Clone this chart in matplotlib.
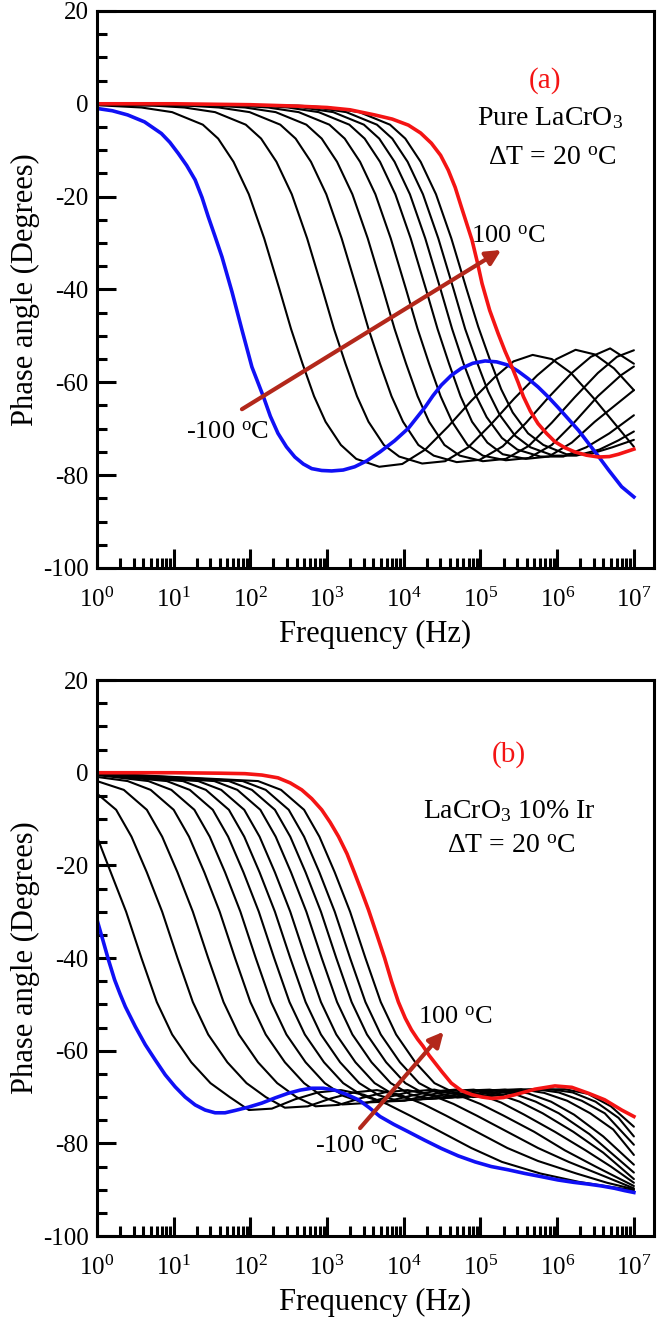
import numpy as np
import matplotlib
matplotlib.use("Agg")
import matplotlib.pyplot as plt
from matplotlib.ticker import FixedLocator, MultipleLocator, FuncFormatter, NullFormatter

plt.rcParams['font.family'] = ['Liberation Serif', 'DejaVu Serif']
plt.rcParams['mathtext.fontset'] = 'custom'
plt.rcParams['mathtext.rm'] = 'Liberation Serif'
plt.rcParams['mathtext.it'] = 'Liberation Serif:italic'
plt.rcParams['mathtext.bf'] = 'Liberation Serif:bold'
plt.rcParams['axes.unicode_minus'] = False

# ---------------- Panel (a): Pure LaCrO3 (log10 frequency, phase in degrees) ----------------
a_m100_logf = [0, 0.2, 0.4, 0.62, 0.84, 0.95, 1.06, 1.17, 1.28, 1.37, 1.45, 1.54, 1.63, 1.76, 1.89, 2.02,
               2.17, 2.26, 2.36, 2.47, 2.58, 2.69, 2.80, 2.93, 3.06, 3.21, 3.36, 3.52, 3.69, 3.88, 4.06,
               4.17, 4.28, 4.38, 4.49, 4.62, 4.75, 4.9, 5.06, 5.21, 5.36, 5.49, 5.62, 5.75, 5.88, 6.01,
               6.14, 6.28, 6.41, 6.54, 6.67, 6.84, 7.0]
a_m100_phase = [-1.0, -1.5, -2.4, -3.9, -6.4, -8.3, -10.7, -13.3, -16.4, -20.2, -24.3, -28.6, -33.0, -40.5,
                -48.7, -56.7, -63.1, -67.3, -71.0, -73.9, -76.1, -77.6, -78.6, -79.0, -79.1, -78.9, -78.2,
                -76.9, -75.0, -72.6, -69.9, -67.6, -65.3, -62.9, -60.6, -58.5, -57.0, -55.9, -55.4, -55.6,
                -56.3, -57.6, -59.2, -61.0, -63.1, -65.4, -67.8, -70.4, -73.2, -76.0, -78.9, -82.5, -84.7]

a_m80_logf = [0, 0.58, 0.98, 1.38, 1.58, 1.78, 1.98, 2.18, 2.38, 2.53, 2.68, 2.83, 2.98, 3.18, 3.38, 3.68,
              3.98, 4.28, 4.58, 4.88, 5.18, 5.43, 5.68, 5.93, 6.18, 6.48, 6.78, 7.0]
a_m80_phase = [-0.3, -0.8, -1.8, -4.5, -7.5, -12.5, -19.5, -29, -40, -48.5, -56, -63, -68.5, -73.5, -76.5,
               -78.2, -77.6, -74.5, -69.5, -64, -59, -55.5, -54.1, -55, -58, -63.5, -69.5, -73.9]

a_m60_logf = [0, 0.74, 1.14, 1.54, 1.94, 2.14, 2.34, 2.54, 2.74, 2.94, 3.09, 3.24, 3.39, 3.54, 3.74, 3.94,
              4.24, 4.54, 4.84, 5.14, 5.44, 5.74, 5.99, 6.24, 6.49, 6.74, 7.0]
a_m60_phase = [-0.2, -0.4, -0.8, -1.8, -4.5, -7.5, -12.5, -19.5, -29, -40, -48.5, -56, -63, -68.5, -73.5,
               -76, -77.5, -77, -74, -69, -63.5, -58.5, -55, -53, -54, -57, -61.7]

a_m40_logf = [0, 1.19, 1.59, 1.99, 2.39, 2.59, 2.79, 2.99, 3.19, 3.39, 3.54, 3.69, 3.84, 3.99, 4.19, 4.39,
              4.69, 4.99, 5.29, 5.59, 5.89, 6.19, 6.44, 6.69, 7.0]
a_m40_phase = [-0.2, -0.4, -0.8, -1.8, -4.5, -7.5, -12.5, -19.5, -29, -40, -48.5, -56, -63, -68.5, -73.5,
               -75.8, -77.2, -76.7, -73.8, -68.8, -63.2, -58, -54.5, -52.7, -56]

a_m20_logf = [0, 1.53, 1.93, 2.33, 2.73, 2.93, 3.13, 3.33, 3.53, 3.73, 3.88, 4.03, 4.18, 4.33, 4.53, 4.73,
              5.03, 5.33, 5.63, 5.93, 6.23, 6.53, 6.78, 7.0]
a_m20_phase = [-0.1, -0.4, -0.8, -1.8, -4.5, -7.5, -12.5, -19.5, -29, -40, -48.5, -56, -63, -68.5, -73.5,
               -75.8, -77, -76.5, -73.7, -68.7, -63.2, -58, -54.5, -53.1]

a_0_logf = [0, 1.83, 2.23, 2.63, 3.03, 3.23, 3.43, 3.63, 3.83, 4.03, 4.18, 4.33, 4.48, 4.63, 4.83, 5.03,
            5.33, 5.63, 5.93, 6.23, 6.53, 6.83, 7.0]
a_0_phase = [-0.1, -0.4, -0.8, -1.8, -4.5, -7.5, -12.5, -19.5, -29, -40, -48.5, -56, -63, -68.5, -73.5,
             -75.8, -76.8, -76.3, -73.5, -68.5, -63, -58.5, -56.6]

a_20_logf = [0, 2.09, 2.49, 2.89, 3.29, 3.49, 3.69, 3.89, 4.09, 4.29, 4.44, 4.59, 4.74, 4.89, 5.09, 5.29,
             5.59, 5.89, 6.19, 6.49, 6.79, 7.0]
a_20_phase = [-0.1, -0.4, -0.8, -1.8, -4.5, -7.5, -12.5, -19.5, -29, -40, -48.5, -56, -63, -68.5, -73,
              -75.5, -76.5, -76, -73, -68.5, -64.5, -61.7]

a_40_logf = [0, 2.28, 2.68, 3.08, 3.48, 3.68, 3.88, 4.08, 4.28, 4.48, 4.63, 4.78, 4.93, 5.08, 5.28, 5.48,
             5.78, 6.08, 6.38, 6.68, 7.0]
a_40_phase = [-0.1, -0.4, -0.8, -1.8, -4.5, -7.5, -12.5, -19.5, -29, -40, -48.5, -56, -62.5, -67.5, -72,
              -74.5, -76, -76, -74, -71, -67.1]

a_60_logf = [0, 2.45, 2.85, 3.25, 3.65, 3.85, 4.05, 4.25, 4.45, 4.65, 4.8, 4.95, 5.1, 5.25, 5.45, 5.65,
             5.95, 6.25, 6.55, 6.8, 7.0]
a_60_phase = [-0.1, -0.4, -0.8, -1.8, -4.5, -7.5, -12.5, -19.5, -29, -40, -48.5, -55.5, -62, -67, -71.5,
              -74, -75.8, -75.8, -74.5, -72.5, -70.6]

a_80_logf = [0, 2.62, 3.02, 3.42, 3.82, 4.02, 4.22, 4.42, 4.62, 4.82, 4.97, 5.12, 5.27, 5.42, 5.62, 5.82,
             6.12, 6.42, 6.72, 7.0]
a_80_phase = [-0.1, -0.4, -0.8, -1.8, -4.5, -7.5, -12.5, -19.5, -29, -40, -48, -55, -61.5, -66.5, -71,
              -73.5, -75.5, -75.5, -74, -72.4]

a_100_logf = [0, 1.0, 2.0, 2.6, 3.0, 3.3, 3.62, 3.85, 4.06, 4.22, 4.36, 4.48, 4.58, 4.67, 4.75, 4.82,
              4.89, 4.96, 5.02, 5.12, 5.23, 5.32, 5.41, 5.49, 5.56, 5.65, 5.75, 5.86, 5.97, 6.1, 6.23,
              6.38, 6.54, 6.68, 6.80, 7.0]
a_100_phase = [0, 0, -0.2, -0.5, -0.8, -1.3, -2.4, -3.3, -4.6, -6.3, -8.5, -11.1, -14.3, -18.0, -22.2,
               -25.8, -29.4, -34.2, -38.7, -44.5, -49.5, -53.3, -56.7, -60.0, -63.1, -66.2, -68.9, -71.0,
               -72.8, -74.1, -75.0, -75.7, -76.1, -76.0, -75.5, -74.4]

# ---------------- Panel (b): LaCrO3 10% Ir ----------------
b_m100_logf = [0, 0.08, 0.15, 0.23, 0.30, 0.37, 0.50, 0.63, 0.76, 0.89, 1.02, 1.15, 1.28, 1.41, 1.54, 1.67,
               1.80, 1.97, 2.15, 2.32, 2.49, 2.65, 2.80, 2.95, 3.10, 3.25, 3.41, 3.55, 3.69, 3.87, 4.06,
               4.27, 4.49, 4.71, 4.93, 5.14, 5.36, 5.58, 5.80, 6.01, 6.21, 6.41, 6.58, 6.75, 6.88, 7.0]
b_m100_phase = [-31.7, -36.3, -40.4, -44.7, -47.7, -50.5, -54.8, -58.7, -62.0, -65.2, -67.8, -70.0, -71.7,
                -72.8, -73.4, -73.4, -72.9, -72.2, -71.3, -70.2, -69.2, -68.5, -68.1, -68.1, -68.5, -69.4,
                -70.6, -72.3, -74.2, -75.9, -77.5, -79.3, -81.1, -82.7, -84.0, -85.0, -85.7, -86.5, -87.2,
                -87.9, -88.4, -88.8, -89.2, -89.7, -90.2, -90.6]

b_k1_logf = [0, 0.18, 0.38, 0.58, 0.78, 0.98, 1.23, 1.48, 1.73, 1.98, 2.28, 2.58, 2.88, 3.18, 3.48, 3.78,
             4.08, 4.48, 4.88, 5.28, 5.78, 6.28, 6.7, 7.0]
b_k1_phase = [-13.8, -21.5, -30, -40, -49.5, -56.5, -62.5, -67, -70, -72.8, -72.5, -70.5, -69, -68.5, -69.5,
              -71.5, -74, -77.5, -81, -84, -86.5, -88.3, -89.4, -90.1]

b_k2_logf = [0, 0.25, 0.45, 0.65, 0.85, 1.05, 1.25, 1.45, 1.7, 1.95, 2.2, 2.45, 2.75, 3.05, 3.35, 3.65,
             3.95, 4.25, 4.55, 4.95, 5.35, 5.75, 6.25, 6.65, 7.0]
b_k2_phase = [-4.5, -8, -13.8, -21.5, -30, -40, -49.5, -56.5, -62.5, -67, -70, -72.3, -72, -70.3, -69, -68.5,
              -69.5, -71.5, -74, -77.5, -81, -83.8, -86.5, -88.5, -89.9]

b_k3_logf = [0, 0.35, 0.65, 0.85, 1.05, 1.25, 1.45, 1.65, 1.85, 2.1, 2.35, 2.6, 2.85, 3.15, 3.45, 3.75,
             4.05, 4.35, 4.65, 4.95, 5.35, 5.75, 6.15, 6.6, 7.0]
b_k3_phase = [-1.8, -3.7, -8, -13.8, -21.5, -30, -40, -49.5, -56.5, -62.5, -67, -70, -72, -71.7, -70.2, -69,
              -68.5, -69.5, -71.5, -74, -77.5, -81, -84, -87, -89.7]

b_k4_logf = [0, 0.4, 0.7, 1.0, 1.2, 1.4, 1.6, 1.8, 2.0, 2.2, 2.45, 2.7, 2.95, 3.2, 3.5, 3.8, 4.1, 4.4,
             4.7, 5.0, 5.3, 5.7, 6.1, 6.5, 7.0]
b_k4_phase = [-0.9, -1.8, -3.7, -8, -13.8, -21.5, -30, -40, -49.5, -56.5, -62.5, -67, -70, -71.6, -71.3, -70,
              -68.8, -68.4, -69.5, -71.5, -74, -77.5, -81.5, -85, -89.2]

b_k5_logf = [0, 0.67, 0.97, 1.27, 1.47, 1.67, 1.87, 2.07, 2.27, 2.47, 2.72, 2.97, 3.22, 3.47, 3.77, 4.07,
             4.37, 4.67, 4.97, 5.27, 5.57, 5.97, 6.37, 6.7, 7.0]
b_k5_phase = [-0.5, -1.8, -3.7, -8, -13.8, -21.5, -30, -40, -49.5, -56.5, -62.5, -67, -69.8, -71.2, -71, -69.8,
              -68.8, -68.4, -69.3, -71.2, -73.8, -77.5, -81.5, -85, -88.5]

b_k6_logf = [0, 0.91, 1.21, 1.51, 1.71, 1.91, 2.11, 2.31, 2.51, 2.71, 2.96, 3.21, 3.46, 3.71, 4.01, 4.31,
             4.61, 4.91, 5.21, 5.51, 5.81, 6.21, 6.6, 7.0]
b_k6_phase = [-0.4, -1.8, -3.7, -8, -13.8, -21.5, -30, -40, -49.5, -56.5, -62.5, -67, -69.7, -71, -70.8, -69.6,
              -68.7, -68.4, -69.3, -71, -73.5, -77.5, -82, -87.7]

b_k7_logf = [0, 1.12, 1.42, 1.72, 1.92, 2.12, 2.32, 2.52, 2.72, 2.92, 3.17, 3.42, 3.67, 3.92, 4.22, 4.52,
             4.82, 5.12, 5.42, 5.72, 6.02, 6.42, 7.0]
b_k7_phase = [-0.3, -1.8, -3.7, -8, -13.8, -21.5, -30, -40, -49.5, -56.5, -62.5, -67, -69.6, -70.8, -70.5,
              -69.5, -68.6, -68.4, -69.2, -71, -73.5, -78, -86.3]

b_k8_logf = [0, 1.32, 1.62, 1.92, 2.12, 2.32, 2.52, 2.72, 2.92, 3.12, 3.37, 3.62, 3.87, 4.12, 4.42, 4.72,
             5.02, 5.32, 5.62, 5.92, 6.22, 6.6, 7.0]
b_k8_phase = [-0.3, -1.8, -3.7, -8, -13.8, -21.5, -30, -40, -49.5, -56.5, -62.5, -67, -69.5, -70.6, -70.3,
              -69.4, -68.6, -68.4, -69.2, -71, -73.8, -78.5, -84.6]

b_k9_logf = [0, 1.53, 1.83, 2.13, 2.33, 2.53, 2.73, 2.93, 3.13, 3.33, 3.58, 3.83, 4.08, 4.33, 4.63, 4.93,
             5.23, 5.53, 5.83, 6.13, 6.43, 6.73, 7.0]
b_k9_phase = [-0.2, -1.8, -3.7, -8, -13.8, -21.5, -30, -40, -49.5, -56.5, -62.5, -67, -69.4, -70.4, -70.1,
              -69.3, -68.5, -68.3, -69.1, -70.8, -73.5, -77, -82.5]

b_k10_logf = [0, 1.72, 2.02, 2.32, 2.52, 2.72, 2.92, 3.12, 3.32, 3.52, 3.77, 4.02, 4.27, 4.52, 4.82, 5.12,
              5.42, 5.72, 6.02, 6.32, 6.62, 7.0]
b_k10_phase = [-0.2, -1.8, -3.7, -8, -13.8, -21.5, -30, -40, -49.5, -56.5, -62.5, -67, -69.3, -70.2, -69.9,
               -69.1, -68.5, -68.3, -69, -70.8, -73.5, -80.3]

b_k11_logf = [0, 1.9, 2.2, 2.5, 2.7, 2.9, 3.1, 3.3, 3.5, 3.7, 3.95, 4.2, 4.45, 4.7, 5.0, 5.3, 5.6, 5.9,
              6.2, 6.5, 6.8, 7.0]
b_k11_phase = [-0.1, -1.8, -3.7, -8, -13.8, -21.5, -30, -40, -49.5, -56.5, -62.5, -67, -69.2, -70.1, -69.8,
               -69, -68.4, -68.3, -69, -71, -74.5, -78.5]

b_k12_logf = [0, 2.1, 2.4, 2.7, 2.9, 3.1, 3.3, 3.5, 3.7, 3.9, 4.15, 4.4, 4.65, 4.9, 5.2, 5.5, 5.8, 6.1,
              6.4, 6.7, 7.0]
b_k12_phase = [-0.1, -1.8, -3.7, -8, -13.8, -21.5, -30, -40, -49.5, -56.5, -62.5, -67, -69, -70, -69.7,
               -68.9, -68.4, -68.3, -69.3, -72, -76.4]

b_100_logf = [0, 1.0, 1.6, 1.93, 2.15, 2.36, 2.52, 2.67, 2.80, 2.93, 3.04, 3.15, 3.26, 3.36, 3.45, 3.54,
              3.65, 3.75, 3.84, 3.93, 4.02, 4.1, 4.18, 4.25, 4.33, 4.41, 4.5, 4.62, 4.75, 4.89, 5.02, 5.15,
              5.3, 5.45, 5.71, 5.97, 6.19, 6.41, 6.62, 6.84, 7.0]
b_100_phase = [0, 0, -0.1, -0.2, -0.5, -1.1, -2.2, -3.7, -5.6, -8, -10.7, -13.8, -17.5, -21.7, -25.6, -29.6,
               -35, -40, -45, -49.5, -53, -55.5, -57.5, -59, -61, -62.7, -64.6, -67, -68.6, -69.5, -70,
               -70.3, -70.1, -69.5, -68.3, -67.6, -67.9, -69.2, -70.6, -72.8, -74.2]

a_black = [(a_m80_logf, a_m80_phase), (a_m60_logf, a_m60_phase), (a_m40_logf, a_m40_phase),
           (a_m20_logf, a_m20_phase), (a_0_logf, a_0_phase), (a_20_logf, a_20_phase),
           (a_40_logf, a_40_phase), (a_60_logf, a_60_phase), (a_80_logf, a_80_phase)]
b_black = [(b_k1_logf, b_k1_phase), (b_k2_logf, b_k2_phase), (b_k3_logf, b_k3_phase),
           (b_k4_logf, b_k4_phase), (b_k5_logf, b_k5_phase), (b_k6_logf, b_k6_phase),
           (b_k7_logf, b_k7_phase), (b_k8_logf, b_k8_phase), (b_k9_logf, b_k9_phase),
           (b_k10_logf, b_k10_phase), (b_k11_logf, b_k11_phase), (b_k12_logf, b_k12_phase)]

x_tick_exponents = [0, 1, 2, 3, 4, 5, 6, 7]
y_ticks = [20, 0, -20, -40, -60, -80, -100]

BLUE = '#1010F5'
RED = '#F41414'
ARROW = '#B3281B'

fig = plt.figure(figsize=(6.61, 13.19), dpi=100)
ax_a = fig.add_axes([0.1467, 0.5694, 0.8427, 0.4223])
ax_b = fig.add_axes([0.1467, 0.0629, 0.8427, 0.4215])


def style_axis(ax):
    ax.set_xscale('log')
    ax.set_xlim(1, 10 ** 7.262)
    ax.set_ylim(-100, 20)
    ax.xaxis.set_major_locator(FixedLocator([10.0 ** e for e in x_tick_exponents]))
    ax.xaxis.set_minor_locator(FixedLocator([m * 10.0 ** e for e in range(7) for m in range(2, 10)]))
    ax.xaxis.set_major_formatter(FuncFormatter(
        lambda v, p: r'$\mathregular{10^{%d}}$' % int(round(np.log10(v)))))
    ax.xaxis.set_minor_formatter(NullFormatter())
    ax.yaxis.set_major_locator(FixedLocator(y_ticks))
    ax.yaxis.set_minor_locator(MultipleLocator(5))
    ax.tick_params(which='both', direction='in', top=False, right=False, width=2.2, colors='black')
    ax.tick_params(which='major', length=14, labelsize=18)
    ax.tick_params(axis='y', which='major', pad=6)
    ax.tick_params(axis='x', which='major', pad=14)
    ax.tick_params(which='minor', length=7)
    for s in ax.spines.values():
        s.set_linewidth(2.2)
    ax.set_xlabel('Frequency (Hz)', fontsize=22, labelpad=6)
    ax.set_ylabel('Phase angle (Degrees)', fontsize=22, labelpad=2)


for ax in (ax_a, ax_b):
    style_axis(ax)

# Panel (a)
for lf, ph in a_black:
    ax_a.plot(10.0 ** np.array(lf), ph, color='black', lw=1.5, solid_capstyle='round')
ax_a.plot(10.0 ** np.array(a_m100_logf), a_m100_phase, color=BLUE, lw=2.6)
ax_a.plot(10.0 ** np.array(a_100_logf), a_100_phase, color=RED, lw=2.6)
ax_a.annotate('', xy=(10 ** 5.27, -31.5), xytext=(10 ** 1.89, -65.8),
              arrowprops=dict(arrowstyle='-|>', color=ARROW, lw=3, mutation_scale=22,
                              shrinkA=0, shrinkB=0))
ax_a.text(10 ** 5.36, -28.7, r'100 $^{\mathrm{o}}$C', fontsize=19, ha='center', va='center')
ax_a.text(10 ** 1.70, -70.8, r'-100 $^{\mathrm{o}}$C', fontsize=19, ha='center', va='center')
ax_a.text(10 ** 5.84, 5.1, '(a)', fontsize=21, color=RED, ha='center', va='center')
ax_a.text(10 ** 5.91, -3.0, r'Pure LaCrO$_3$', fontsize=20, ha='center', va='center')
ax_a.text(10 ** 5.93, -11.7, r'ΔT = 20 $^{\mathrm{o}}$C', fontsize=20, ha='center', va='center')

# Panel (b)
for lf, ph in b_black:
    ax_b.plot(10.0 ** np.array(lf), ph, color='black', lw=1.5, solid_capstyle='round')
ax_b.plot(10.0 ** np.array(b_m100_logf), b_m100_phase, color=BLUE, lw=2.6)
ax_b.plot(10.0 ** np.array(b_100_logf), b_100_phase, color=RED, lw=2.6)
ax_b.annotate('', xy=(10 ** 4.52, -55.9), xytext=(10 ** 3.43, -76.7),
              arrowprops=dict(arrowstyle='-|>', color=ARROW, lw=3, mutation_scale=22,
                              shrinkA=0, shrinkB=0))
ax_b.text(10 ** 4.67, -52.9, r'100 $^{\mathrm{o}}$C', fontsize=19, ha='center', va='center')
ax_b.text(10 ** 3.38, -80.7, r'-100 $^{\mathrm{o}}$C', fontsize=19, ha='center', va='center')
ax_b.text(10 ** 5.37, 3.9, '(b)', fontsize=21, color=RED, ha='center', va='center')
ax_b.text(10 ** 5.38, -8.2, r'LaCrO$_3$ 10% Ir', fontsize=20, ha='center', va='center')
ax_b.text(10 ** 5.40, -16.0, r'ΔT = 20 $^{\mathrm{o}}$C', fontsize=20, ha='center', va='center')

fig.savefig('out.png', dpi=100)
